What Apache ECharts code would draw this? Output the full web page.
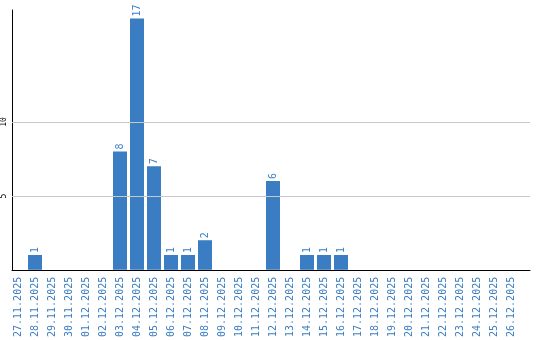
<!DOCTYPE html>
<html><head><meta charset="utf-8">
<script src="https://cdn.jsdelivr.net/npm/echarts@6/dist/echarts.min.js"></script>
<style>html,body{margin:0;padding:0;background:#fff}#c{width:540px;height:340px}</style>
</head><body><div id="c"></div>
<script>
var categories = ['27.11.2025','28.11.2025','29.11.2025','30.11.2025','01.12.2025','02.12.2025','03.12.2025','04.12.2025','05.12.2025','06.12.2025','07.12.2025','08.12.2025','09.12.2025','10.12.2025','11.12.2025','12.12.2025','13.12.2025','14.12.2025','15.12.2025','16.12.2025','17.12.2025','18.12.2025','19.12.2025','20.12.2025','21.12.2025','22.12.2025','23.12.2025','24.12.2025','25.12.2025','26.12.2025'];
var values = [0,1,0,0,0,0,8,17,7,1,1,2,0,0,0,6,0,1,1,1,0,0,0,0,0,0,0,0,0,0];
var yTicks = [5, 10];

var BLUE = '#3b7dc2';
var YMAX = 17.57;
var chart = echarts.init(document.getElementById('c'), null, {renderer: 'canvas'});
chart.setOption({
  animation: false,
  grid: [
    {left: 9.5, width: 510, top: 10, bottom: 70},
    {left: 10, right: 10, top: 10, bottom: 70}
  ],
  xAxis: [
    {type: 'category', gridIndex: 0, data: categories,
     axisLine: {show: false}, axisTick: {show: false},
     axisLabel: {rotate: 90, interval: 0, color: BLUE, fontFamily: 'DejaVu Sans Mono', fontSize: 10, margin: 7}},
    {type: 'value', gridIndex: 1, min: 0, max: 1,
     axisLine: {show: true, onZero: false, lineStyle: {color: '#000', width: 1}},
     axisTick: {show: false}, axisLabel: {show: false}, splitLine: {show: false}}
  ],
  yAxis: [
    {type: 'value', gridIndex: 0, min: 0, max: YMAX, show: false},
    {type: 'value', gridIndex: 1, min: 0, max: YMAX, interval: 5,
     axisLine: {show: true, lineStyle: {color: '#000', width: 1}},
     axisTick: {show: false}, splitLine: {show: false},
     axisLabel: {rotate: 90, margin: 4, color: '#000', fontFamily: 'DejaVu Sans Mono', fontSize: 8,
       showMaxLabel: false,
       formatter: function (v) { return yTicks.indexOf(v) >= 0 ? String(v) : ''; }}}
  ],
  series: [
    {type: 'bar', xAxisIndex: 0, yAxisIndex: 0, data: values, barWidth: 14,
     itemStyle: {color: BLUE},
     label: {show: true, position: 'top', rotate: 90, align: 'left', verticalAlign: 'middle', distance: 2,
       color: BLUE, fontFamily: 'DejaVu Sans Mono', fontSize: 10,
       formatter: function (p) { return p.value ? String(p.value) : ''; }}},
    {type: 'line', xAxisIndex: 1, yAxisIndex: 1, data: [], silent: true,
     markLine: {silent: true, symbol: ['none', 'none'], label: {show: false},
       lineStyle: {color: '#c8c8c8', type: 'solid', width: 1},
       data: yTicks.map(function (t) { return {yAxis: t}; })}}
  ]
});
</script></body></html>
